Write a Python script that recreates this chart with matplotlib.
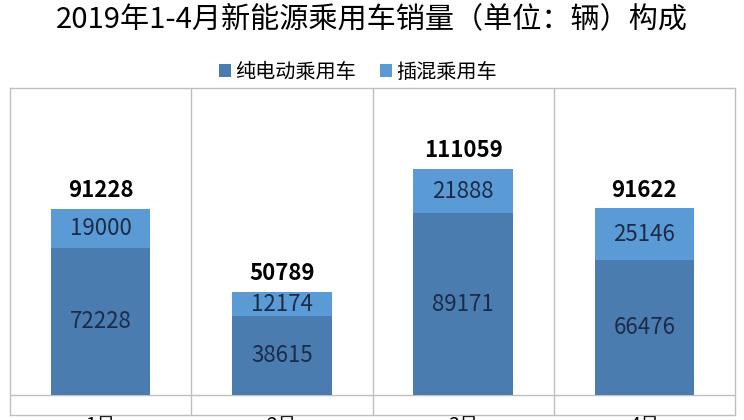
import numpy as np
import matplotlib
matplotlib.use('Agg')
import matplotlib.pyplot as plt

plt.rcParams['font.family'] = ['Noto Sans CJK SC', 'DejaVu Sans']

# data
months = ['1月', '2月', '3月', '4月']
bev = [72228, 38615, 89171, 66476]      # 纯电动乘用车
phev = [19000, 12174, 21888, 25146]     # 插混乘用车
totals = [91228, 50789, 111059, 91622]

c_bev = '#4a7cb0'
c_phev = '#5b9bd5'
c_lab = '#1c2b48'
c_grid = '#bfbfbf'

fig = plt.figure(figsize=(7.44, 4.2), dpi=100)
ax = fig.add_axes([10 / 744, 5 / 420, 725 / 744, 327 / 420])

x = np.arange(len(months))
w = 0.55
b1 = ax.bar(x, bev, w, color=c_bev, label='纯电动乘用车', zorder=3)
b2 = ax.bar(x, phev, w, bottom=bev, color=c_phev, label='插混乘用车', zorder=3)

for i in range(len(months)):
    ax.text(x[i], bev[i] / 2, str(bev[i]), ha='center', va='center',
            fontsize=16, color=c_lab, zorder=4)
    ax.text(x[i], bev[i] + phev[i] / 2, str(phev[i]), ha='center', va='center',
            fontsize=16, color=c_lab, zorder=4)
    ax.annotate(str(totals[i]), (x[i], totals[i]), xytext=(0, 5),
                textcoords='offset points', ha='center', va='bottom',
                fontsize=16, fontweight='bold', color='black', zorder=4)

ax.set_xlim(-0.5, len(months) - 0.5)
ax.set_ylim(-9800, 150800)
ax.axhline(0, color=c_grid, lw=1, zorder=2)
for b in np.arange(0.5, len(months) - 0.5, 1):
    ax.axvline(b, color=c_grid, lw=1, zorder=2)

ax.set_yticks([])
ax.set_xticks(x)
ax.set_xticklabels(months, fontsize=14)
ax.tick_params(axis='x', length=0, pad=0)
for s in ax.spines.values():
    s.set_color(c_grid)
    s.set_linewidth(1)

fig.suptitle('2019年1-4月新能源乘用车销量（单位：辆）构成', fontsize=21,
             x=0.5, y=0.99, va='top')
fig.legend(handles=[b1, b2], loc='center', bbox_to_anchor=(358 / 744, 1 - 72 / 420),
           ncol=2, frameon=False, fontsize=14.5, handlelength=0.6, handleheight=0.6,
           handletextpad=0.2, columnspacing=1.2)

fig.savefig('out.png', dpi=100)
